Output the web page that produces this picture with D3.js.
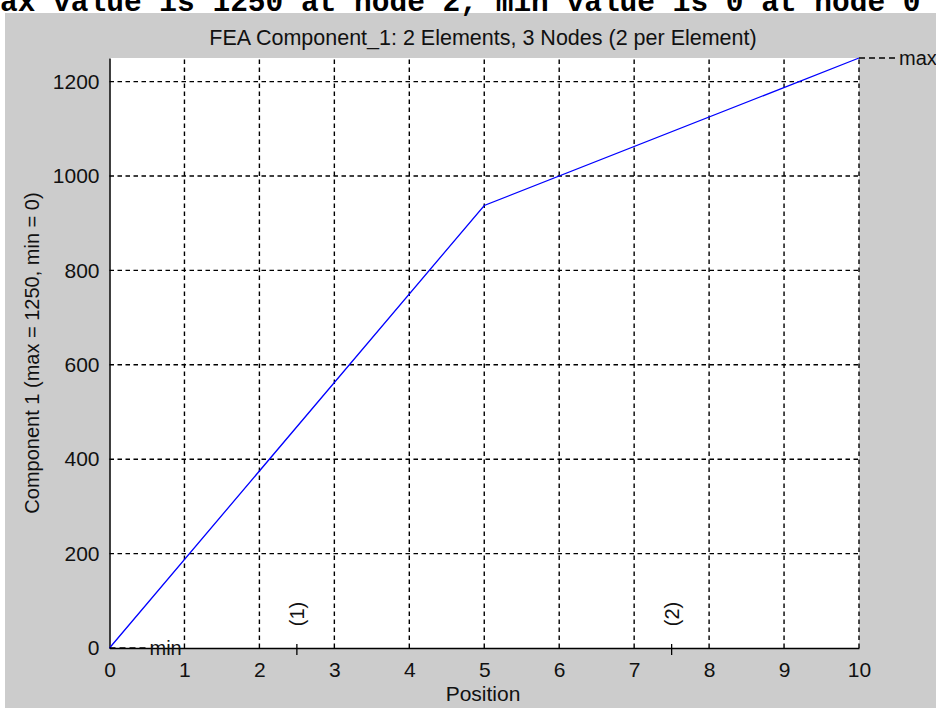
<!DOCTYPE html>
<html>
<head>
<meta charset="utf-8">
<script src="https://cdn.jsdelivr.net/npm/d3@7"></script>
<style>
  body { margin: 0; background: #fff; }
  svg { display: block; }
  text { font-family: "Liberation Sans", Arial, sans-serif; fill: #111; }
</style>
</head>
<body>
<div class="container"></div>
<script>
// node data
var nodePos = [0, 5, 10];
var nodeVal = [0, 937.5, 1250];
var elemMid = [2.5, 7.5];
var elemLabels = ["(1)", "(2)"];
var xTicks = [0, 1, 2, 3, 4, 5, 6, 7, 8, 9, 10];
var yTicks = [0, 200, 400, 600, 800, 1000, 1200];
var title = "FEA Component_1: 2 Elements, 3 Nodes (2 per Element)";
var yLabel = "Component 1 (max = 1250, min = 0)";
var xLabel = "Position";
var banner = "Max value is 1250 at node 2, min value is 0 at node 0";

var w = 936, h = 708;
var fs = 21;

var svg = d3.select(".container").append("svg").attr("width", w).attr("height", h);

// gray figure background
svg.append("rect").attr("x", 5).attr("y", 13).attr("width", w - 5).attr("height", h - 13).attr("fill", "#cccccc");

// clipped banner text at the very top
svg.append("text").attr("x", -17.7).attr("y", 11)
  .style("font-family", "'Liberation Mono', monospace").style("font-size", "29.5px")
  .style("font-weight", "bold").style("fill", "#000").text(banner);

var x = d3.scaleLinear().domain([0, 10]).range([109.5, 859]);
var y = d3.scaleLinear().domain([0, 1250]).range([648, 58]);

// plot area
svg.append("rect").attr("x", x(0)).attr("y", y(1250))
  .attr("width", x(10) - x(0)).attr("height", y(0) - y(1250)).attr("fill", "#fff");

// grid
var grid = svg.append("g").attr("stroke", "#000").attr("stroke-width", 1.4).attr("stroke-dasharray", "4.5,3.5");
grid.selectAll(".vg").data(xTicks.filter(function(d){ return d > 0; })).enter().append("line")
  .attr("x1", function(d){ return x(d); }).attr("x2", function(d){ return x(d); })
  .attr("y1", y(0)).attr("y2", y(1250));
grid.selectAll(".hg").data(yTicks.filter(function(d){ return d > 0; })).enter().append("line")
  .attr("x1", x(0)).attr("x2", x(10))
  .attr("y1", function(d){ return y(d); }).attr("y2", function(d){ return y(d); });

// axes
var xAxis = svg.append("g").attr("transform", "translate(0," + y(0) + ")")
  .call(d3.axisBottom(x).tickValues(xTicks).tickSize(0).tickPadding(14).tickFormat(d3.format("d")));
var yAxis = svg.append("g").attr("transform", "translate(" + x(0) + ",0)")
  .call(d3.axisLeft(y).tickValues(yTicks).tickSize(0).tickPadding(10).tickFormat(d3.format("d")));
[xAxis, yAxis].forEach(function(a){
  a.selectAll("text").style("font-size", fs + "px").style("font-family", "'Liberation Sans', Arial, sans-serif").attr("fill", "#111");
  a.select(".domain").attr("stroke", "#000").attr("stroke-width", 1.5);
});

// element midpoint markers
svg.selectAll(".em").data(elemMid).enter().append("line")
  .attr("x1", function(d){ return x(d); }).attr("x2", function(d){ return x(d); })
  .attr("y1", y(0) - 4).attr("y2", y(0) + 7).attr("stroke", "#000").attr("stroke-width", 1.3);
svg.selectAll(".el").data(elemMid).enter().append("text")
  .attr("transform", function(d){ return "translate(" + (x(d) + 7) + "," + 614 + ") rotate(-90)"; })
  .attr("text-anchor", "middle").style("font-size", "20px")
  .text(function(d, i){ return elemLabels[i]; });

// the FE line
var line = d3.line().x(function(d, i){ return x(nodePos[i]); }).y(function(d){ return y(d); });
svg.append("path").datum(nodeVal).attr("d", line)
  .attr("fill", "none").attr("stroke", "#0000ff").attr("stroke-width", 1.3);

// max / min markers
function marker(pos, val, label) {
  var px = x(pos), py = y(val);
  svg.append("line").attr("x1", px).attr("x2", px + 38).attr("y1", py).attr("y2", py)
    .attr("stroke", "#000").attr("stroke-width", 1.3).attr("stroke-dasharray", "6,4");
  svg.append("text").attr("x", px + 40).attr("y", py).attr("dy", "0.35em")
    .style("font-size", "20px").text(label);
}
marker(nodePos[2], nodeVal[2], "max");
marker(nodePos[0], nodeVal[0], "min");

// titles
svg.append("text").attr("x", 483).attr("y", 45).attr("text-anchor", "middle")
  .style("font-size", "21.5px").text(title);
svg.append("text").attr("x", 483).attr("y", 701).attr("text-anchor", "middle")
  .style("font-size", fs + "px").text(xLabel);
svg.append("text").attr("transform", "translate(39,353) rotate(-90)").attr("text-anchor", "middle")
  .style("font-size", "20px").text(yLabel);
</script>
</body>
</html>
